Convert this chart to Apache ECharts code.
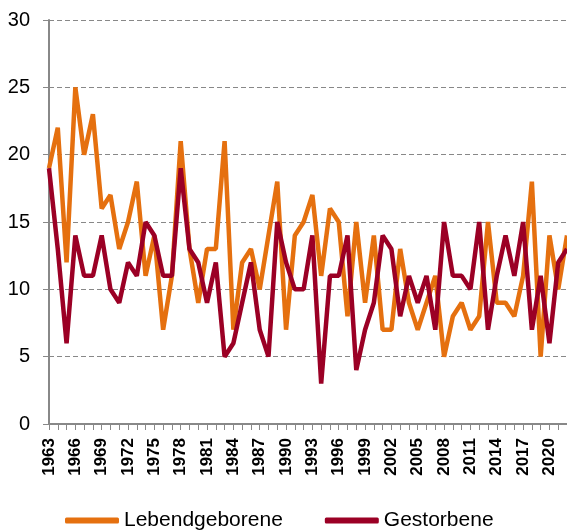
<!DOCTYPE html>
<html>
<head>
<meta charset="utf-8">
<script src="https://cdn.jsdelivr.net/npm/echarts@6/dist/echarts.min.js"></script>
<style>
html,body{margin:0;padding:0;background:#fff;}
#chart{width:567px;height:530px;}
</style>
</head>
<body>
<div id="chart"></div>
<script>
const years = [];
for (let y = 1963; y <= 2022; y++) years.push(String(y));

const lebendgeborene = [19,22,12,25,20,23,16,17,13,15,18,11,14,7,11,21,13,9,13,13,
  21,7,12,13,10,14,18,7,14,15,17,11,16,15,8,15,9,14,7,7,
  13,9,7,9,11,5,8,9,7,8,15,9,9,8,11,18,5,14,10,14];

const gestorbene = [19,13,6,14,11,11,14,10,9,12,11,15,14,11,11,19,13,12,9,12,
  5,6,9,12,7,5,15,12,10,10,14,3,11,11,14,4,7,9,14,13,
  8,11,9,11,7,15,11,11,10,15,7,11,14,11,15,7,11,6,12,13];

const yTicks = { min: 0, max: 30, interval: 5 };
const seriesNames = ['Lebendgeborene', 'Gestorbene'];
const colors = ['#E5700F', '#9B0025'];
const font = 'Liberation Sans, Arial, sans-serif';

const chart = echarts.init(document.getElementById('chart'), null, { renderer: 'canvas' });
chart.setOption({
  animation: false,
  color: colors,
  grid: { left: 49, right: 0, top: 20, bottom: 106, containLabel: false },
  legend: {
    left: 60, top: 505,
    itemWidth: 54, itemHeight: 6, itemGap: 42,
    icon: 'roundRect',
    textStyle: { fontFamily: font, fontSize: 21, color: '#000' },
    data: seriesNames
  },
  xAxis: {
    type: 'category',
    data: years,
    boundaryGap: false,
    axisLine: { lineStyle: { color: '#888', width: 2 } },
    axisTick: { show: true, interval: 0, length: 6, lineStyle: { color: '#888', width: 1 } },
    axisLabel: {
      interval: 2, rotate: 90, margin: 14,
      fontFamily: font, fontSize: 17, fontWeight: 'bold', color: '#000'
    },
    splitLine: { show: false }
  },
  yAxis: {
    type: 'value',
    min: yTicks.min, max: yTicks.max, interval: yTicks.interval,
    axisLine: { show: true, lineStyle: { color: '#888', width: 2 } },
    axisTick: { show: true, length: 6, lineStyle: { color: '#888', width: 1 } },
    axisLabel: { margin: 19, fontFamily: font, fontSize: 20, color: '#000' },
    splitLine: { show: true, lineStyle: { color: '#888', type: [5, 3], width: 1 } }
  },
  series: [
    { name: seriesNames[0], type: 'line', data: lebendgeborene, showSymbol: false, symbol: 'none',
      lineStyle: { width: 4.5, color: colors[0] }, itemStyle: { color: colors[0] } },
    { name: seriesNames[1], type: 'line', data: gestorbene, showSymbol: false, symbol: 'none',
      lineStyle: { width: 4.5, color: colors[1] }, itemStyle: { color: colors[1] } }
  ]
});
</script>
</body>
</html>
